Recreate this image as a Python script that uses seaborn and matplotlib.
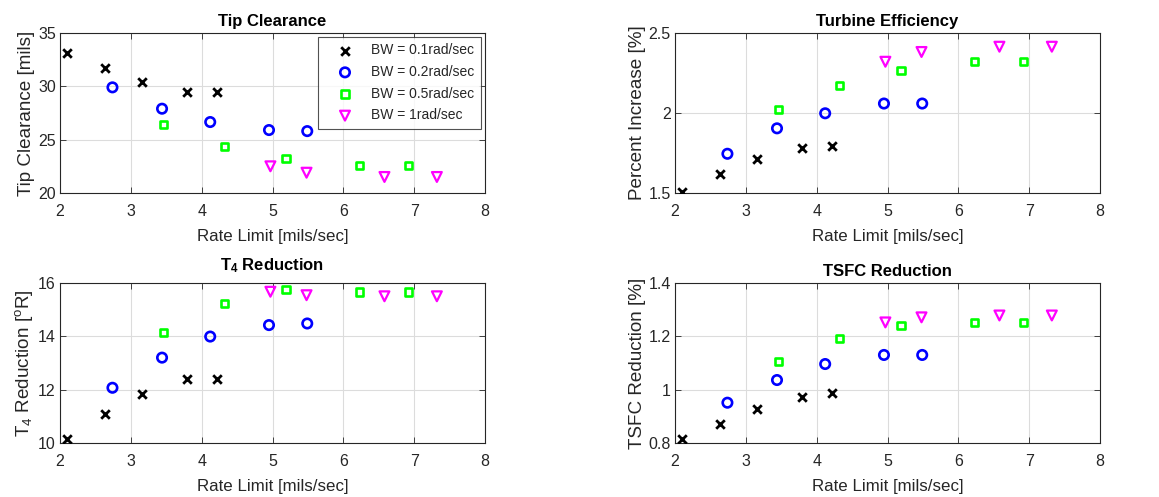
# %%
import matplotlib
matplotlib.use("Agg")
import pandas as pd
import seaborn as sns
import matplotlib.pyplot as plt

# %%
# data, one group per bandwidth
rate_bw01 = [2.10, 2.63, 3.16, 3.79, 4.21]
rate_bw02 = [2.74, 3.44, 4.12, 4.95, 5.49]
rate_bw05 = [3.46, 4.32, 5.19, 6.23, 6.92]
rate_bw1 = [4.97, 5.48, 6.58, 7.32]

tip_bw01 = [33.1, 31.7, 30.4, 29.45, 29.45]
tip_bw02 = [29.9, 27.9, 26.65, 25.9, 25.8]
tip_bw05 = [26.4, 24.4, 23.2, 22.6, 22.6]
tip_bw1 = [22.5, 21.9, 21.5, 21.5]

eff_bw01 = [1.506, 1.617, 1.711, 1.782, 1.793]
eff_bw02 = [1.745, 1.904, 1.998, 2.059, 2.059]
eff_bw05 = [2.021, 2.169, 2.264, 2.322, 2.322]
eff_bw1 = [2.32, 2.381, 2.414, 2.414]

t4_bw01 = [10.16, 11.07, 11.83, 12.40, 12.40]
t4_bw02 = [12.07, 13.20, 13.99, 14.42, 14.48]
t4_bw05 = [14.14, 15.23, 15.77, 15.66, 15.66]
t4_bw1 = [15.67, 15.54, 15.50, 15.50]

tsfc_bw01 = [0.814, 0.873, 0.929, 0.972, 0.987]
tsfc_bw02 = [0.951, 1.036, 1.096, 1.130, 1.130]
tsfc_bw05 = [1.106, 1.191, 1.239, 1.253, 1.253]
tsfc_bw1 = [1.252, 1.271, 1.278, 1.278]

bw_labels = ["BW = 0.1rad/sec", "BW = 0.2rad/sec", "BW = 0.5rad/sec", "BW = 1rad/sec"]

# %%
sns.set_theme(style="white")
plt.rcParams['font.family'] = ['Liberation Sans', 'DejaVu Sans']
plt.rcParams['mathtext.fontset'] = 'custom'
plt.rcParams['mathtext.rm'] = 'Liberation Sans'
plt.rcParams['mathtext.it'] = 'Liberation Sans:italic'
plt.rcParams['mathtext.bf'] = 'Liberation Sans:bold'

text_col = '#262626'
marker_styles = [
    dict(marker='x', s=38, color='black', linewidth=2.0),
    dict(marker='o', s=46, facecolors='none', edgecolors='#0000ff', linewidth=1.9),
    dict(marker='s', s=26, facecolors='none', edgecolors='#00ff00', linewidth=1.9),
    dict(marker='v', s=50, facecolors='none', edgecolors='#ff00ff', linewidth=1.6),
]


def draw_panel(ax, rates, values, title, ylabel, ylim, yticks, legend=False, title_pad=5):
    for rate, val, label, style in zip(rates, values, bw_labels, marker_styles):
        df = pd.DataFrame({'rate': rate, 'val': val})
        sns.scatterplot(data=df, x='rate', y='val', ax=ax, label=label, legend=False,
                        zorder=3, **style)
    ax.set_xlim(2, 8)
    ax.set_ylim(*ylim)
    ax.set_xticks(range(2, 9))
    ax.set_yticks(yticks)
    ax.set_yticklabels([f"{t:g}" for t in yticks])
    ax.grid(True, color='#dcdcdc', linewidth=0.8)
    ax.set_axisbelow(True)
    ax.tick_params(direction='in', length=4, top=True, right=True, bottom=True, left=True,
                   labelsize=11.5, colors=text_col, labelcolor=text_col, width=0.6)
    ax.tick_params(axis='x', pad=8)
    ax.tick_params(axis='y', pad=3)
    for sp in ax.spines.values():
        sp.set_color(text_col)
        sp.set_linewidth(0.8)
    ax.set_title(title, fontsize=12, fontweight='bold', color='black', pad=title_pad)
    ax.set_xlabel("Rate Limit [mils/sec]", fontsize=12.2, color=text_col, labelpad=7)
    ax.set_ylabel(ylabel, fontsize=13.6, color=text_col, labelpad=2)
    if legend:
        leg = ax.legend(loc='upper right', fontsize=10, frameon=True, fancybox=False,
                        edgecolor=text_col, borderpad=0.45, handletextpad=0.4,
                        labelspacing=0.55, borderaxespad=0.3, handlelength=3.0)
        leg.get_frame().set_linewidth(0.8)
        for t in leg.get_texts():
            t.set_color(text_col)


# %%
fig = plt.figure(figsize=(11.59, 4.97), dpi=100)
ax1 = fig.add_axes([0.0518, 0.6117, 0.3667, 0.322])
ax2 = fig.add_axes([0.5824, 0.6117, 0.3667, 0.322])
ax3 = fig.add_axes([0.0518, 0.1087, 0.3667, 0.322])
ax4 = fig.add_axes([0.5824, 0.1087, 0.3667, 0.322])

rates = [rate_bw01, rate_bw02, rate_bw05, rate_bw1]

draw_panel(ax1, rates, [tip_bw01, tip_bw02, tip_bw05, tip_bw1], "Tip Clearance",
           "Tip Clearance [mils]", (20, 35), [20, 25, 30, 35], legend=True)
draw_panel(ax2, rates, [eff_bw01, eff_bw02, eff_bw05, eff_bw1], "Turbine Efficiency",
           "Percent Increase [%]", (1.5, 2.5), [1.5, 2, 2.5])
draw_panel(ax3, rates, [t4_bw01, t4_bw02, t4_bw05, t4_bw1], r"T$_\mathbf{4}$ Reduction",
           r"T$_4$ Reduction [$^\mathrm{o}$R]", (10, 16), [10, 12, 14, 16], title_pad=9)
draw_panel(ax4, rates, [tsfc_bw01, tsfc_bw02, tsfc_bw05, tsfc_bw1], "TSFC Reduction",
           "TSFC Reduction [%]", (0.8, 1.4), [0.8, 1, 1.2, 1.4])

fig.savefig("out.png", dpi=100, facecolor='white')
